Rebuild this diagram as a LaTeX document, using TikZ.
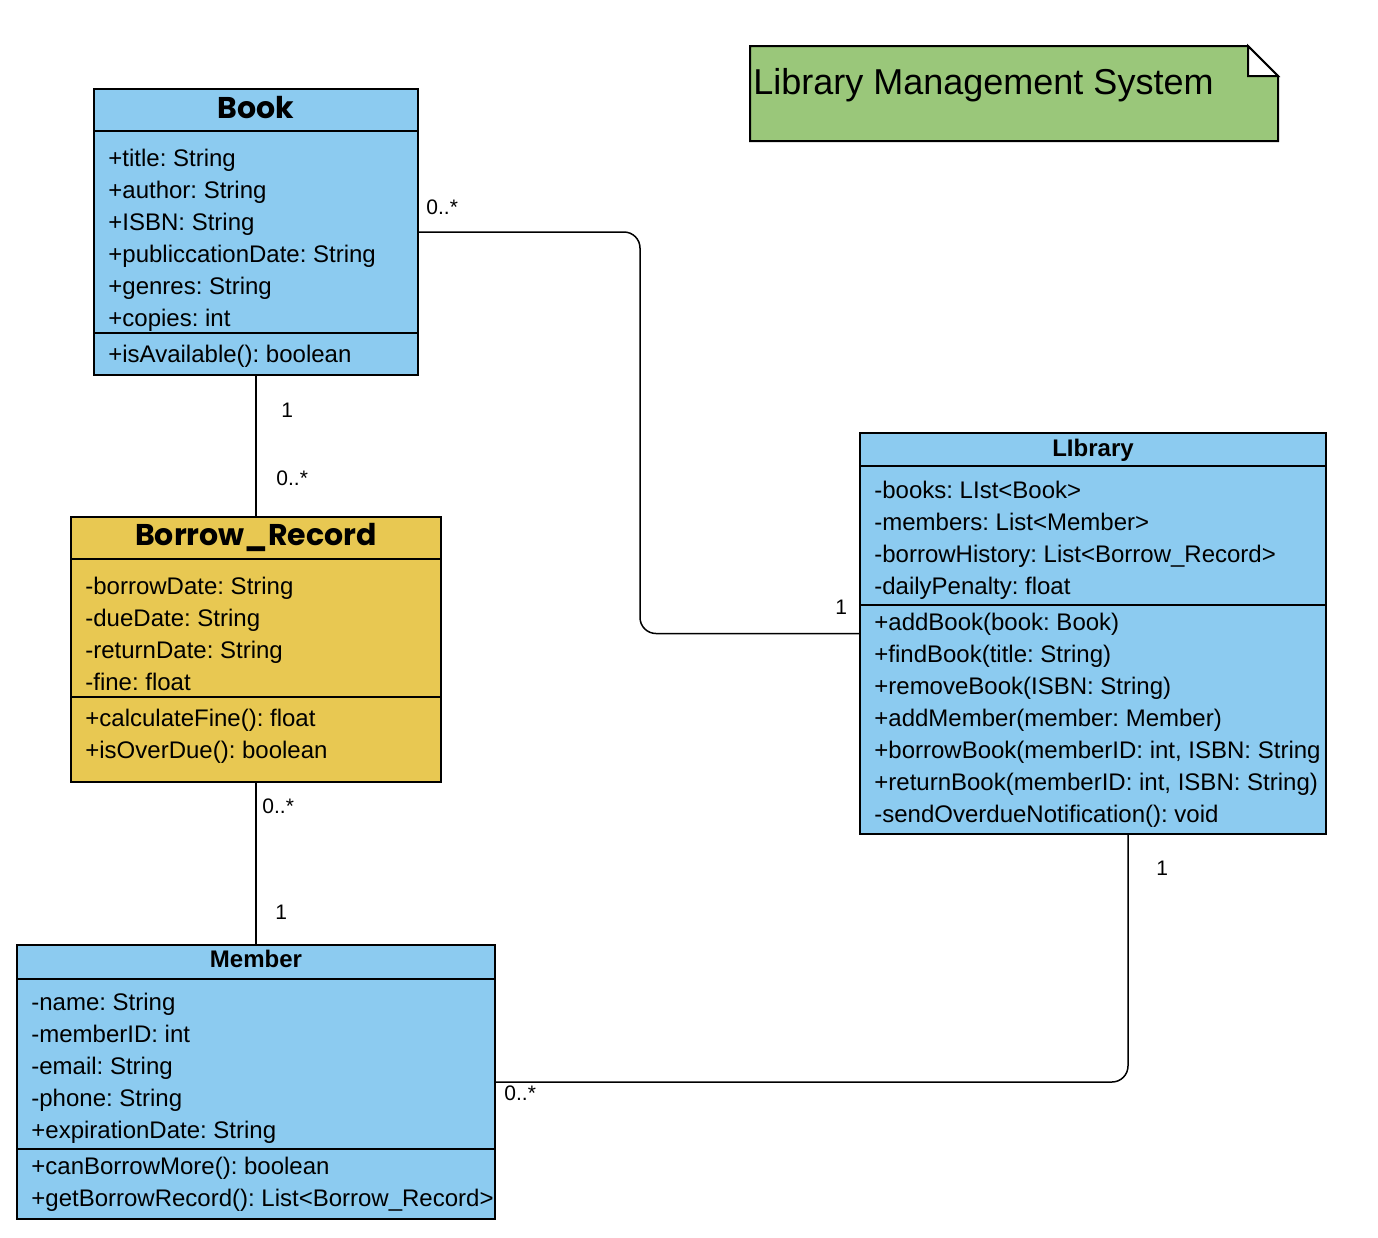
\documentclass[tikz,border=0pt]{standalone}
\usepackage{fontspec}
\setmainfont{Liberation Sans}
\newfontfamily\headfont{Poppins}
\usepackage{tikz}
\usetikzlibrary{positioning, calc}
\usepackage{xcolor}
\definecolor{classblue}{RGB}{140,203,240}
\definecolor{recordgold}{RGB}{232,200,82}
\definecolor{notegreen}{RGB}{154,199,122}
\frenchspacing

\begin{document}
\begin{tikzpicture}[
x=0.5pt, y=-0.5pt,
classbox/.style={draw, line width=1pt, anchor=north west, inner sep=0pt, outer sep=0pt},
attr/.style={anchor=base west, inner sep=0pt, font=\fontsize{12}{14}\selectfont},
title/.style={anchor=base, inner sep=0pt, font=\fontsize{12}{14}\selectfont\bfseries},
bigtitle/.style={anchor=base, inner sep=0pt, font=\fontsize{15}{17}\selectfont\headfont\bfseries},
mult/.style={anchor=base west, inner sep=0pt, font=\fontsize{10.5}{12}\selectfont},
assoc/.style={line width=0.75pt, rounded corners=8pt}
]
\useasboundingbox (0,0) rectangle (1378,1238);

% note
\draw[line width=1pt, fill=notegreen] (750,46) -- (1248,46) -- (1278,76) -- (1278,141) -- (750,141) -- cycle;
\draw[line width=1pt, fill=white] (1248,46) -- (1248,76) -- (1278,76) -- cycle;
\node[anchor=base west, inner sep=0pt, font=\fontsize{18}{20}\selectfont] (note) at (753,94) {Library Management System};

% Book
\node[classbox, fill=classblue, minimum width=162pt, minimum height=143pt] (book) at (94,89) {};
\draw[line width=1pt] (94,131) -- (418,131);
\draw[line width=1pt] (94,333) -- (418,333);
\node[bigtitle] (book-t) at (256,118) {Book};
\foreach \t [count=\i] in {+title: String, +author: String, +ISBN: String, +publiccationDate: String, +genres: String, +copies: int}
  \node[attr] (book-a\i) at (108,134+32*\i) {\t};
\node[attr] (book-m1) at (108,362) {+isAvailable(): boolean};

% Borrow_Record
\node[classbox, fill=recordgold, minimum width=185pt, minimum height=132.5pt] (record) at (71,517) {};
\draw[line width=1pt] (71,559) -- (441,559);
\draw[line width=1pt] (71,697) -- (441,697);
\node[bigtitle] (record-t) at (256,545) {Borrow\_Record};
\foreach \t [count=\i] in {-borrowDate: String, -dueDate: String, -returnDate: String, -fine: float}
  \node[attr] (record-a\i) at (85,562+32*\i) {\t};
\foreach \t [count=\i] in {+calculateFine(): float, +isOverDue(): boolean}
  \node[attr] (record-m\i) at (85,694+32*\i) {\t};

% Library
\node[classbox, fill=classblue, minimum width=233pt, minimum height=200.5pt] (library) at (860,433) {};
\draw[line width=1pt] (860,466) -- (1326,466);
\draw[line width=1pt] (860,605) -- (1326,605);
\node[title] (library-t) at (1093,456) {LIbrary};
\foreach \t [count=\i] in {-books: LIst<Book>, -members: List<Member>, -borrowHistory: List<Borrow\_Record>, -dailyPenalty: float}
  \node[attr] (library-a\i) at (874,466+32*\i) {\t};
\foreach \t [count=\i] in {+addBook(book: Book), +findBook(title: String), +removeBook(ISBN: String), +addMember(member: Member), {+borrowBook(memberID: int, ISBN: String}, {+returnBook(memberID: int, ISBN: String)}, -sendOverdueNotification(): void}
  \node[attr] (library-m\i) at (874,598+32*\i) {\t};

% Member
\node[classbox, fill=classblue, minimum width=239pt, minimum height=137pt] (member) at (17,945) {};
\draw[line width=1pt] (17,979) -- (495,979);
\draw[line width=1pt] (17,1149) -- (495,1149);
\node[title] (member-t) at (256,967) {Member};
\foreach \t [count=\i] in {-name: String, -memberID: int, -email: String, -phone: String, +expirationDate: String}
  \node[attr] (member-a\i) at (31,978+32*\i) {\t};
\foreach \t [count=\i] in {+canBorrowMore(): boolean, +getBorrowRecord(): List<Borrow\_Record>}
  \node[attr] (member-m\i) at (31,1142+32*\i) {\t};

% associations
\coordinate (bk-bend) at (640,0);
\coordinate (lib-drop) at (1128,0);
\draw[assoc] (book.east) -| (bk-bend |- library.west) -- (library.west);
\draw[assoc] (book.south) -- (record.north);
\draw[assoc] (record.south) -- (member.north);
\draw[assoc] (lib-drop |- library.south) |- (member.east);

% multiplicities
\node[mult] (m1) at (426,214) {0..*};
\node[mult] (m2) at (835,614) {1};
\node[mult] (m3) at (281,417) {1};
\node[mult] (m4) at (276,485) {0..*};
\node[mult] (m5) at (262,813) {0..*};
\node[mult] (m6) at (275,919) {1};
\node[mult] (m7) at (1156,875) {1};
\node[mult] (m8) at (504,1100) {0..*};

\end{tikzpicture}
\end{document}
